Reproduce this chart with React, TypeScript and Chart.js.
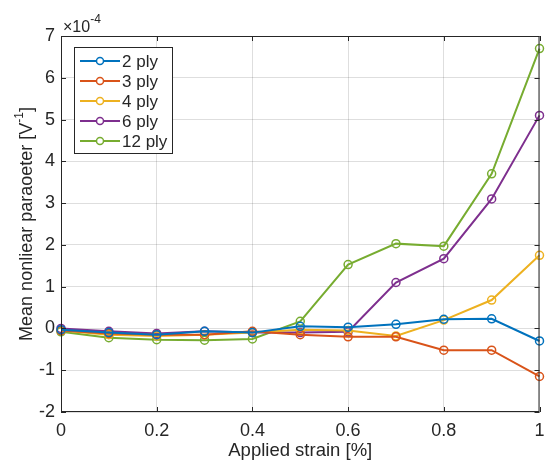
import React, { useEffect, useRef } from "react";
import { Chart, registerables } from "chart.js";

Chart.register(...registerables);

const strain = [0, 0.1, 0.2, 0.3, 0.4, 0.5, 0.6, 0.7, 0.8, 0.9, 1.0];
const ply2 = [-0.03, -0.1, -0.15, -0.07, -0.1, 0.05, 0.03, 0.1, 0.22, 0.23, -0.3];
const ply3 = [-0.05, -0.12, -0.15, -0.15, -0.07, -0.15, -0.2, -0.2, -0.52, -0.52, -1.15];
const ply4 = [-0.05, -0.15, -0.18, -0.15, -0.1, -0.03, -0.05, -0.18, 0.2, 0.68, 1.75];
const ply6 = [0, -0.07, -0.12, -0.07, -0.1, -0.1, -0.08, 1.1, 1.67, 3.1, 5.1];
const ply12 = [-0.08, -0.22, -0.27, -0.28, -0.25, 0.17, 1.53, 2.03, 1.97, 3.7, 6.7];

const seriesNames = ["2 ply", "3 ply", "4 ply", "6 ply", "12 ply"];
const seriesColors = ["#0072BD", "#D95319", "#EDB120", "#7E2F8E", "#77AC30"];
const seriesValues = [ply2, ply3, ply4, ply6, ply12];

const xTicks = [0, 0.2, 0.4, 0.6, 0.8, 1];
const yTicks = [-2, -1, 0, 1, 2, 3, 4, 5, 6, 7];

const FONT = "'Liberation Sans', Arial, Helvetica, sans-serif";
const TXT = "#262626";

const decorPlugin = {
  id: "decor",
  afterDraw(chart: any) {
    const { ctx, chartArea: a, scales } = chart;
    const xs = scales.x;
    const ys = scales.y;
    ctx.save();
    // box
    ctx.strokeStyle = TXT;
    ctx.lineWidth = 1;
    ctx.strokeRect(a.left + 0.5, a.top + 0.5, a.right - a.left - 1, a.bottom - a.top - 1);
    // inward ticks
    const tl = 5;
    ctx.beginPath();
    xTicks.forEach((v) => {
      const px = Math.round(xs.getPixelForValue(v)) + 0.5;
      ctx.moveTo(px, a.bottom);
      ctx.lineTo(px, a.bottom - tl);
      ctx.moveTo(px, a.top);
      ctx.lineTo(px, a.top + tl);
    });
    yTicks.forEach((v) => {
      const py = Math.round(ys.getPixelForValue(v)) + 0.5;
      ctx.moveTo(a.left, py);
      ctx.lineTo(a.left + tl, py);
      ctx.moveTo(a.right, py);
      ctx.lineTo(a.right - tl, py);
    });
    ctx.stroke();

    // exponent label
    ctx.fillStyle = TXT;
    ctx.textBaseline = "alphabetic";
    ctx.textAlign = "left";
    ctx.font = `16px ${FONT}`;
    ctx.fillText("\u00d710", a.left + 2, 32);
    const w = ctx.measureText("\u00d710").width;
    ctx.font = `12px ${FONT}`;
    ctx.fillText("-4", a.left + 2 + w, 23);

    // y axis title with superscript
    ctx.save();
    ctx.translate(27, (a.top + a.bottom) / 2);
    ctx.rotate(-Math.PI / 2);
    const big = `18px ${FONT}`;
    const small = `12px ${FONT}`;
    const p1 = "Mean nonliear paraoeter [V";
    const p3 = "]";
    ctx.font = big;
    const w1 = ctx.measureText(p1).width;
    const w3 = ctx.measureText(p3).width;
    ctx.font = small;
    const w2 = ctx.measureText("-1").width;
    const total = w1 + w2 + w3;
    const x0 = -total / 2;
    ctx.textAlign = "left";
    ctx.textBaseline = "middle";
    ctx.font = big;
    ctx.fillText(p1, x0, 0);
    ctx.font = small;
    ctx.fillText("-1", x0 + w1, -7);
    ctx.font = big;
    ctx.fillText(p3, x0 + w1 + w2, 0);
    ctx.restore();

    // x axis title
    ctx.font = `18.5px ${FONT}`;
    ctx.textAlign = "center";
    ctx.textBaseline = "middle";
    ctx.fillText("Applied strain [%]", (a.left + a.right) / 2, 451);

    // legend
    const lx = 74;
    const ly = 47;
    const lw = 98;
    const rowH = 20;
    const lh = 106;
    ctx.fillStyle = "#ffffff";
    ctx.fillRect(lx, ly, lw, lh);
    ctx.strokeStyle = TXT;
    ctx.lineWidth = 1;
    ctx.strokeRect(lx + 0.5, ly + 0.5, lw, lh);
    seriesNames.forEach((name, i) => {
      const cy = ly + 14 + i * rowH;
      ctx.strokeStyle = seriesColors[i];
      ctx.lineWidth = 2;
      ctx.beginPath();
      ctx.moveTo(lx + 6, cy);
      ctx.lineTo(lx + 46, cy);
      ctx.stroke();
      ctx.lineWidth = 1.5;
      ctx.beginPath();
      ctx.arc(lx + 26, cy, 3.5, 0, Math.PI * 2);
      ctx.fillStyle = "#ffffff";
      ctx.fill();
      ctx.stroke();
      ctx.fillStyle = TXT;
      ctx.font = `17px ${FONT}`;
      ctx.textAlign = "left";
      ctx.textBaseline = "middle";
      ctx.fillText(name, lx + 48, cy + 1);
    });
    ctx.restore();
  },
};

export default function App() {
  const ref = useRef<HTMLCanvasElement>(null);
  useEffect(() => {
    document.body.style.margin = "0";
    const canvas = ref.current!;
    const chart = new Chart(canvas, {
      type: "line",
      data: {
        datasets: seriesValues.map((vals, i) => ({
          label: seriesNames[i],
          data: strain.map((x, j) => ({ x, y: vals[j] })),
          borderColor: seriesColors[i],
          backgroundColor: seriesColors[i],
          borderWidth: 2,
          pointRadius: 4,
          pointBorderWidth: 1.5,
          pointBackgroundColor: "rgba(0,0,0,0)",
          pointBorderColor: seriesColors[i],
          tension: 0,
          clip: false as any,
        })),
      },
      options: {
        animation: false,
        responsive: false,
        devicePixelRatio: 1,
        layout: { padding: { left: 0, right: 4, top: 36, bottom: 0 } },
        plugins: { legend: { display: false }, tooltip: { enabled: false } },
        scales: {
          x: {
            type: "linear",
            min: 0,
            max: 1,
            afterFit: (s: any) => {
              s.height = 48;
              s.paddingLeft = 0;
              s.paddingRight = 0;
            },
            afterBuildTicks: (s: any) => {
              s.ticks = xTicks.map((v) => ({ value: v }));
            },
            ticks: {
              color: TXT,
              font: { family: FONT, size: 18 },
              padding: 8,
              maxRotation: 0,
              callback: (v: any) => String(Number(v)),
            },
            grid: { color: "rgba(0,0,0,0.13)", drawTicks: false, tickLength: 0 },
            border: { display: false },
          },
          y: {
            type: "linear",
            min: -2,
            max: 7,
            afterFit: (s: any) => {
              s.width = 61;
              s.paddingTop = 0;
              s.paddingBottom = 0;
            },
            afterBuildTicks: (s: any) => {
              s.ticks = yTicks.map((v) => ({ value: v }));
            },
            ticks: {
              color: TXT,
              font: { family: FONT, size: 18 },
              padding: 6,
              callback: (v: any) => String(Number(v)),
            },
            grid: { color: "rgba(0,0,0,0.13)", drawTicks: false, tickLength: 0 },
            border: { display: false },
          },
        },
      },
      plugins: [decorPlugin],
    });
    return () => chart.destroy();
  }, []);
  return <canvas ref={ref} width={545} height={460} style={{ display: "block" }} />;
}
